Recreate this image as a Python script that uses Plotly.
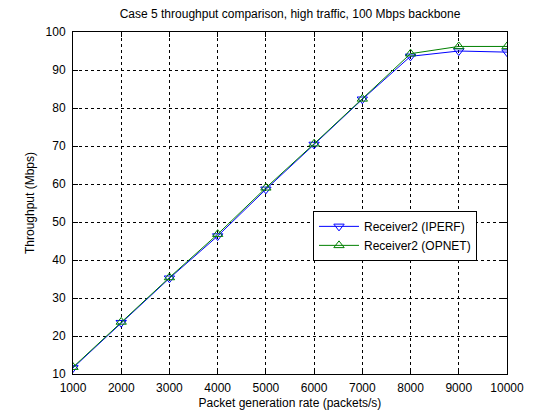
import plotly.graph_objects as go

rate = [1000, 2000, 3000, 4000, 5000, 6000, 7000, 8000, 9000, 10000]
iperf = [11.6, 23.5, 35.2, 46.3, 58.6, 70.4, 82.3, 93.6, 95.0, 94.7]
opnet = [11.8, 23.7, 35.4, 46.8, 59.0, 70.6, 82.4, 94.3, 96.2, 96.2]
xticks = [1000, 2000, 3000, 4000, 5000, 6000, 7000, 8000, 9000, 10000]
yticks = [10, 20, 30, 40, 50, 60, 70, 80, 90, 100]

fig = go.Figure()
fig.add_trace(go.Scatter(x=rate, y=iperf, mode="lines+markers", name="Receiver2 (IPERF)",
                         line=dict(color="#0000ff", width=1),
                         marker=dict(symbol="triangle-down-open", size=9, color="#0000ff", line=dict(width=1))))
fig.add_trace(go.Scatter(x=rate, y=opnet, mode="lines+markers", name="Receiver2 (OPNET)",
                         line=dict(color="#008000", width=1),
                         marker=dict(symbol="triangle-up-open", size=9, color="#008000", line=dict(width=1))))

axis_common = dict(showline=True, linecolor="black", linewidth=1, mirror="ticks",
                   ticks="inside", ticklen=5, tickcolor="black",
                   showgrid=True, gridcolor="black", gridwidth=1, griddash="dot",
                   zeroline=False, tickfont=dict(family="Liberation Sans, Arial", size=12, color="black"))

fig.update_layout(
    width=560, height=420,
    margin=dict(l=73, r=53, t=32, b=46),
    paper_bgcolor="white", plot_bgcolor="white",
    font=dict(family="Liberation Sans, Arial", size=12, color="black"),
    title=dict(text="Case 5 throughput comparison, high traffic, 100 Mbps backbone",
               x=0.5, xref="paper", xanchor="center", y=0.967, yanchor="middle",
               font=dict(size=12, color="black")),
    xaxis=dict(range=[1000, 10000], tickvals=xticks, ticktext=[str(v) for v in xticks],
               ticklabelstandoff=3,
               title=dict(text="Packet generation rate (packets/s)", standoff=4,
                          font=dict(size=12, color="black")), **axis_common),
    yaxis=dict(range=[10, 100], tickvals=yticks, ticklabelstandoff=4,
               title=dict(text="Throughput (Mbps)", standoff=8,
                          font=dict(size=12, color="black")), **axis_common),
    legend=dict(x=0.553, y=0.477, xanchor="left", yanchor="top",
                bgcolor="white", bordercolor="black", borderwidth=1,
                font=dict(size=12, color="black"), tracegroupgap=0, itemwidth=40),
    showlegend=True,
)

fig.write_html("out.html")
